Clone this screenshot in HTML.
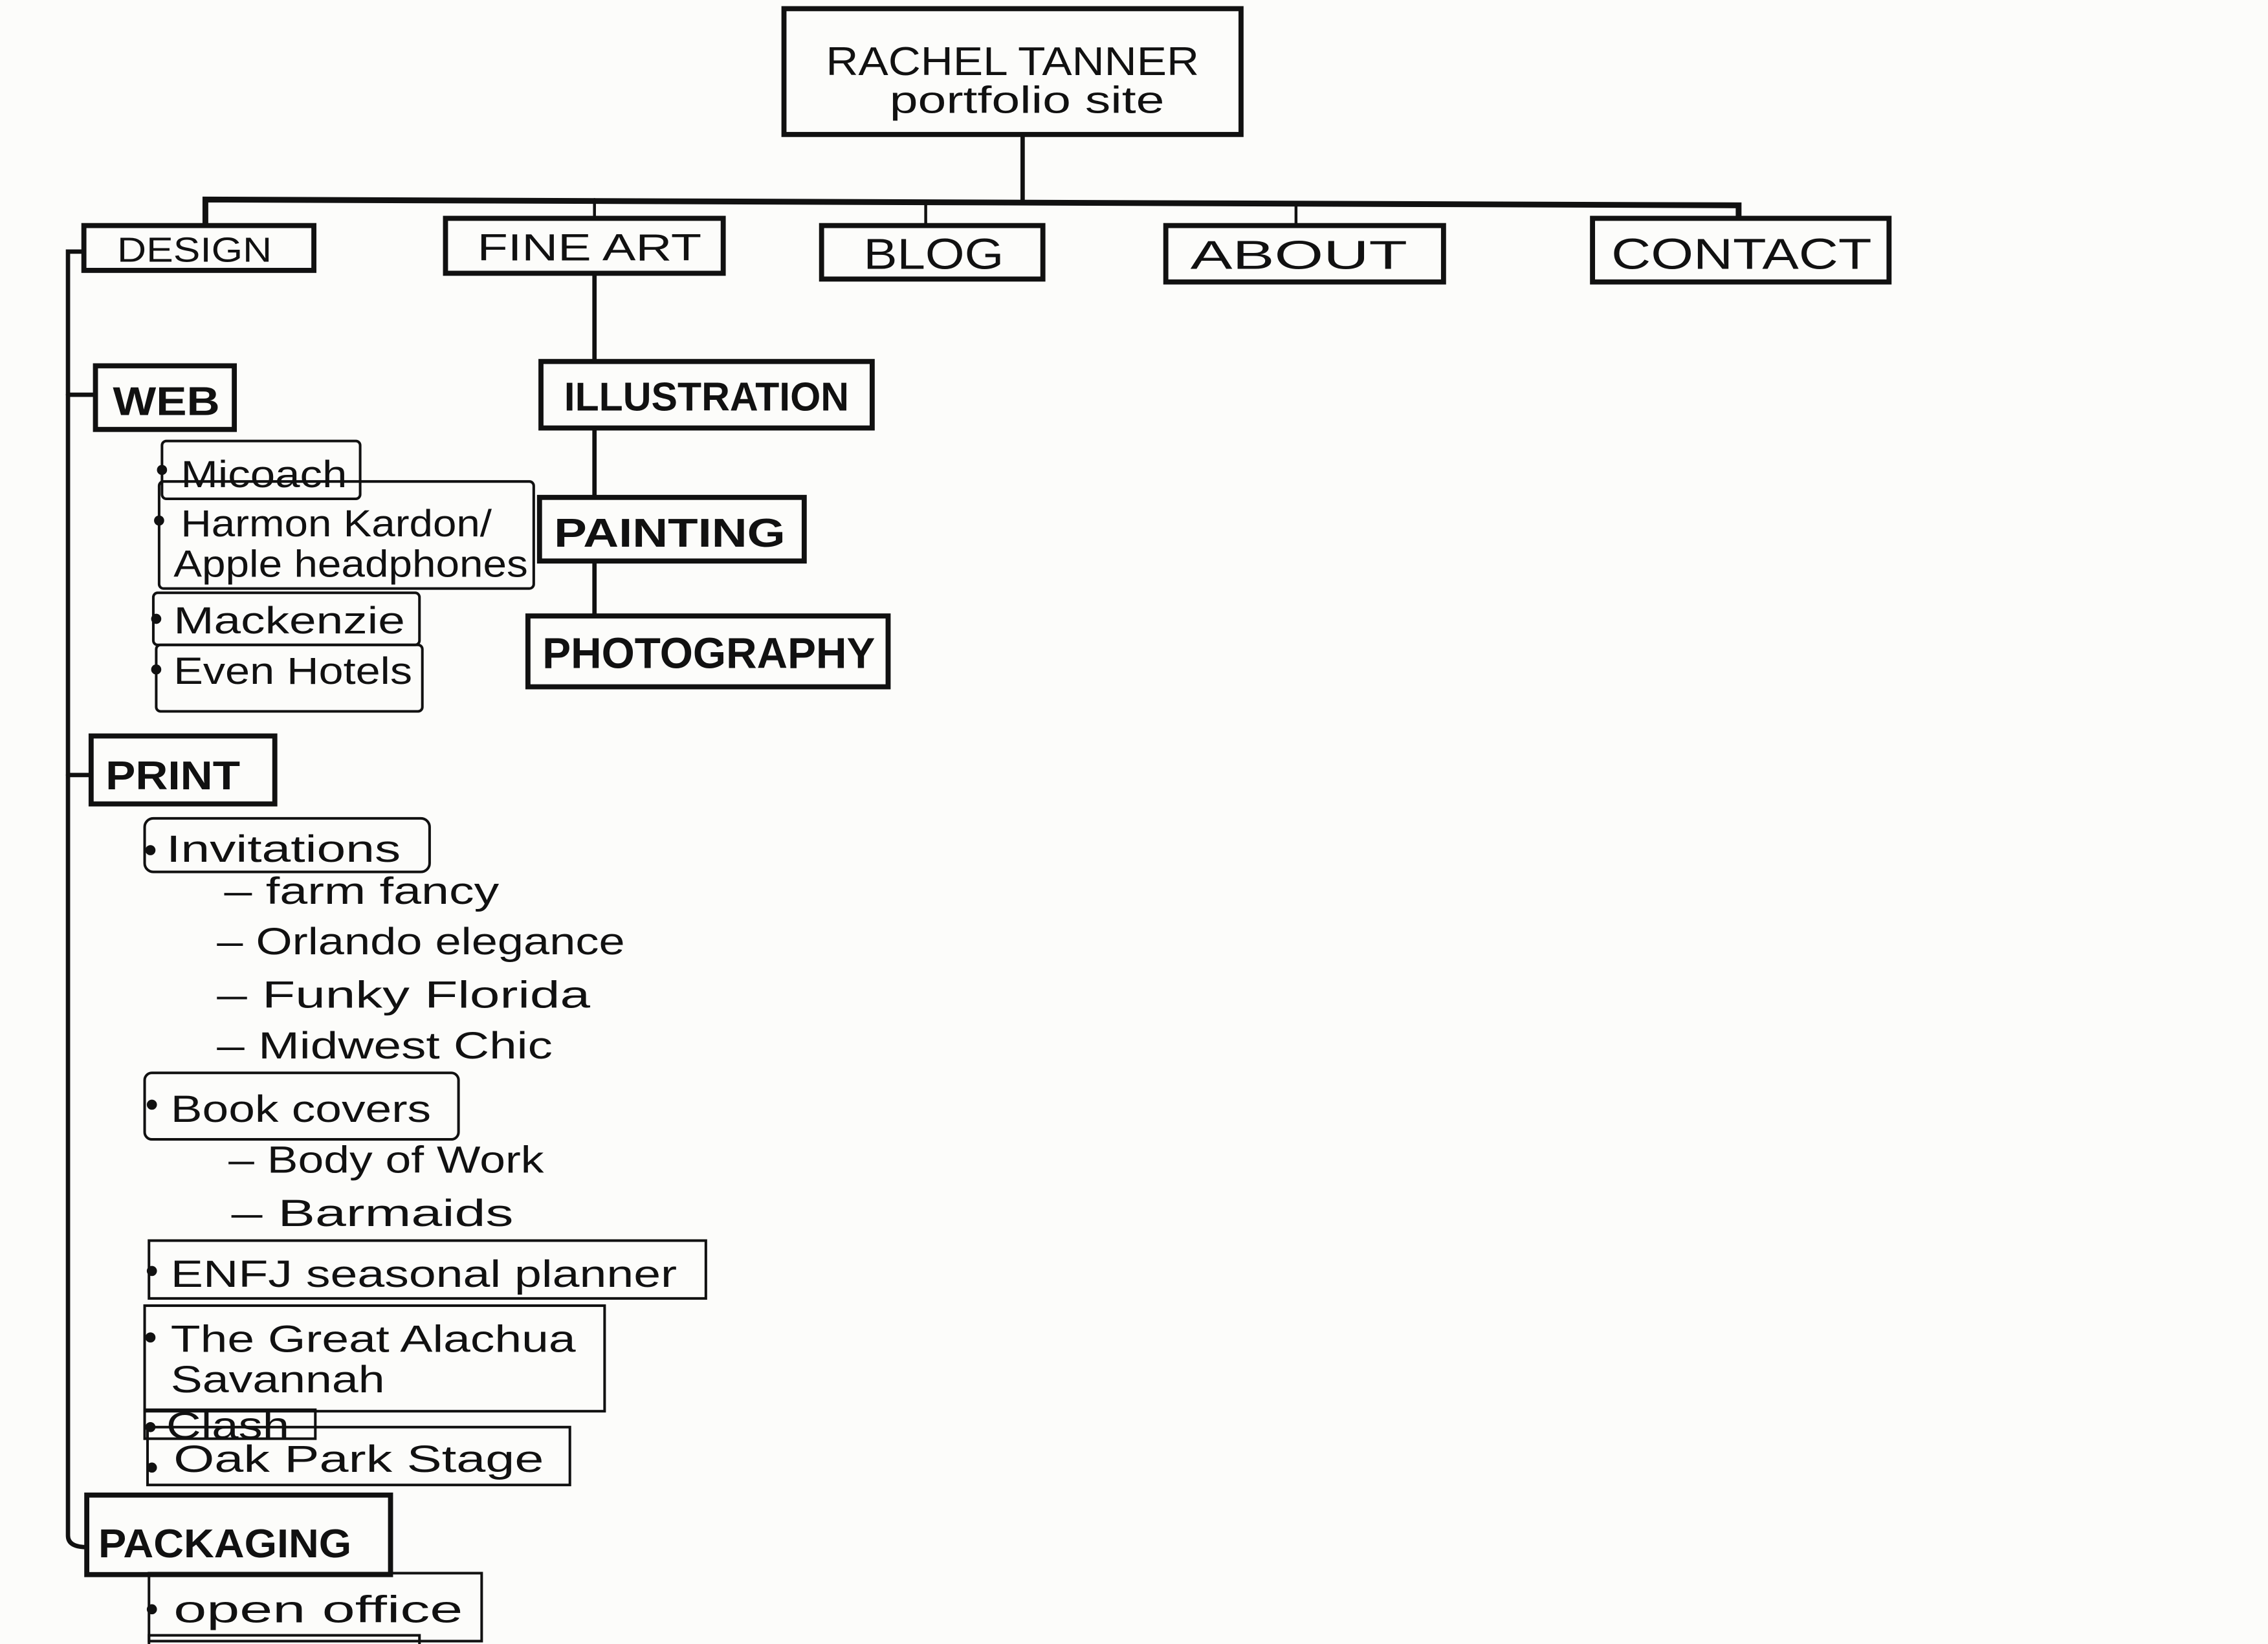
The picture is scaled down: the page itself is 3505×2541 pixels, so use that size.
<!DOCTYPE html>
<html><head><meta charset="utf-8"><style>
html,body{margin:0;padding:0;background:#fcfcfa;}
svg{display:block;}
text{font-family:"Liberation Sans Narrow","Liberation Sans",sans-serif;fill:#111;}
.b{font-weight:bold;}
</style></head><body>
<svg width="3505" height="2541" viewBox="0 0 1568 1137" preserveAspectRatio="none" xmlns="http://www.w3.org/2000/svg">
<rect width="1568" height="1137" fill="#fcfcfa"/>
<g fill="none" stroke="#111" stroke-linecap="round">
<line x1="707" y1="93" x2="707" y2="139" stroke-width="3"/>
<polyline points="142,158 142,138 1202,142 1202,155" stroke-width="4"/>
<line x1="411" y1="138" x2="411" y2="152" stroke-width="2"/>
<line x1="640" y1="140" x2="640" y2="157" stroke-width="2"/>
<line x1="896" y1="141" x2="896" y2="157" stroke-width="2"/>
<line x1="411" y1="189" x2="411" y2="428" stroke-width="3"/>
<path d="M58 174 L47 174 L47 1062 Q47 1070 60 1070" stroke-width="3"/>
<line x1="47" y1="273" x2="66" y2="273" stroke-width="3"/>
<line x1="47" y1="536" x2="63" y2="536" stroke-width="3"/>
</g>
<g fill="#fcfcfa" stroke="#111" stroke-width="3.5">
<rect x="542" y="6" width="316" height="87"/>
<rect x="58" y="156" width="159" height="31"/>
<rect x="308" y="151" width="192" height="38"/>
<rect x="568" y="156" width="153" height="37"/>
<rect x="806" y="156" width="192" height="39"/>
<rect x="1101" y="151" width="205" height="44"/>
<rect x="66" y="253" width="96" height="44"/>
<rect x="374" y="250" width="229" height="46"/>
<rect x="373" y="344" width="183" height="44"/>
<rect x="365" y="426" width="249" height="49"/>
<rect x="63" y="509" width="127" height="47"/>
<rect x="60" y="1034" width="210" height="55"/>
</g>
<g fill="none" stroke="#111" stroke-width="1.8">
<rect x="112" y="305" width="137" height="40" rx="3"/>
<rect x="110" y="333" width="259" height="74" rx="3"/>
<rect x="106" y="410" width="184" height="36" rx="3"/>
<rect x="108" y="446" width="184" height="46" rx="3"/>
<rect x="100" y="566" width="197" height="37" rx="6"/>
<rect x="100" y="742" width="217" height="46" rx="5"/>
<rect x="103" y="858" width="385" height="40"/>
<rect x="100" y="903" width="318" height="73"/>
<rect x="100" y="975" width="118" height="20"/>
<rect x="102" y="987" width="292" height="40"/>
<rect x="103" y="1088" width="230" height="47"/>
<rect x="103" y="1131" width="187" height="10"/>
</g>
<g fill="#111">
<circle cx="112" cy="325" r="3.5"/><circle cx="110" cy="360" r="3.5"/>
<circle cx="108" cy="428" r="3.5"/><circle cx="108" cy="463" r="3.5"/>
<circle cx="104" cy="588" r="3.5"/><circle cx="105" cy="764" r="3.5"/>
<circle cx="105" cy="879" r="3.5"/><circle cx="104" cy="925" r="3.5"/>
<circle cx="104" cy="987" r="3.5"/><circle cx="105" cy="1015" r="3.5"/>
<circle cx="105" cy="1113" r="3.5"/>
</g>
<text x="700" y="52" font-size="28" text-anchor="middle" textLength="258" lengthAdjust="spacingAndGlyphs">RACHEL TANNER</text>
<text x="710" y="78" font-size="26" text-anchor="middle" textLength="190" lengthAdjust="spacingAndGlyphs">portfolio site</text>
<text x="81" y="181" font-size="24" textLength="107" lengthAdjust="spacingAndGlyphs">DESIGN</text>
<text x="330" y="180" font-size="26" textLength="155" lengthAdjust="spacingAndGlyphs">FINE ART</text>
<text x="597" y="186" font-size="30" textLength="97" lengthAdjust="spacingAndGlyphs">BLOG</text>
<text x="823" y="186" font-size="28" textLength="150" lengthAdjust="spacingAndGlyphs">ABOUT</text>
<text x="1114" y="186" font-size="30" textLength="180" lengthAdjust="spacingAndGlyphs">CONTACT</text>
<text class="b" x="78" y="287" font-size="28" textLength="74" lengthAdjust="spacingAndGlyphs">WEB</text>
<text class="b" x="390" y="284" font-size="28" textLength="197" lengthAdjust="spacingAndGlyphs">ILLUSTRATION</text>
<text class="b" x="383" y="378" font-size="28" textLength="160" lengthAdjust="spacingAndGlyphs">PAINTING</text>
<text class="b" x="375" y="462" font-size="30" textLength="230" lengthAdjust="spacingAndGlyphs">PHOTOGRAPHY</text>
<text class="b" x="73" y="546" font-size="28" textLength="93" lengthAdjust="spacingAndGlyphs">PRINT</text>
<text class="b" x="68" y="1077" font-size="28" textLength="175" lengthAdjust="spacingAndGlyphs">PACKAGING</text>
<g font-size="26">
<text x="125" y="337" textLength="115" lengthAdjust="spacingAndGlyphs">Micoach</text>
<text x="125" y="371" textLength="215" lengthAdjust="spacingAndGlyphs">Harmon Kardon/</text>
<text x="120" y="399" textLength="245" lengthAdjust="spacingAndGlyphs">Apple headphones</text>
<text x="120" y="438" textLength="160" lengthAdjust="spacingAndGlyphs">Mackenzie</text>
<text x="120" y="473" textLength="165" lengthAdjust="spacingAndGlyphs">Even Hotels</text>
<text x="115" y="596" textLength="162" lengthAdjust="spacingAndGlyphs">Invitations</text>
<text x="155" y="625" textLength="190" lengthAdjust="spacingAndGlyphs">– farm fancy</text>
<text x="150" y="660" textLength="282" lengthAdjust="spacingAndGlyphs">– Orlando elegance</text>
<text x="150" y="697" textLength="258" lengthAdjust="spacingAndGlyphs">– Funky Florida</text>
<text x="150" y="732" textLength="232" lengthAdjust="spacingAndGlyphs">– Midwest Chic</text>
<text x="118" y="776" textLength="180" lengthAdjust="spacingAndGlyphs">Book covers</text>
<text x="158" y="811" textLength="218" lengthAdjust="spacingAndGlyphs">– Body of Work</text>
<text x="160" y="848" textLength="195" lengthAdjust="spacingAndGlyphs">– Barmaids</text>
<text x="118" y="890" textLength="350" lengthAdjust="spacingAndGlyphs">ENFJ seasonal planner</text>
<text x="118" y="935" textLength="280" lengthAdjust="spacingAndGlyphs">The Great Alachua</text>
<text x="118" y="963" textLength="148" lengthAdjust="spacingAndGlyphs">Savannah</text>
<text x="115" y="995" textLength="85" lengthAdjust="spacingAndGlyphs">Clash</text>
<text x="120" y="1018" textLength="256" lengthAdjust="spacingAndGlyphs">Oak Park Stage</text>
<text x="120" y="1122" textLength="200" lengthAdjust="spacingAndGlyphs">open office</text>
</g>
</svg>
</body></html>
